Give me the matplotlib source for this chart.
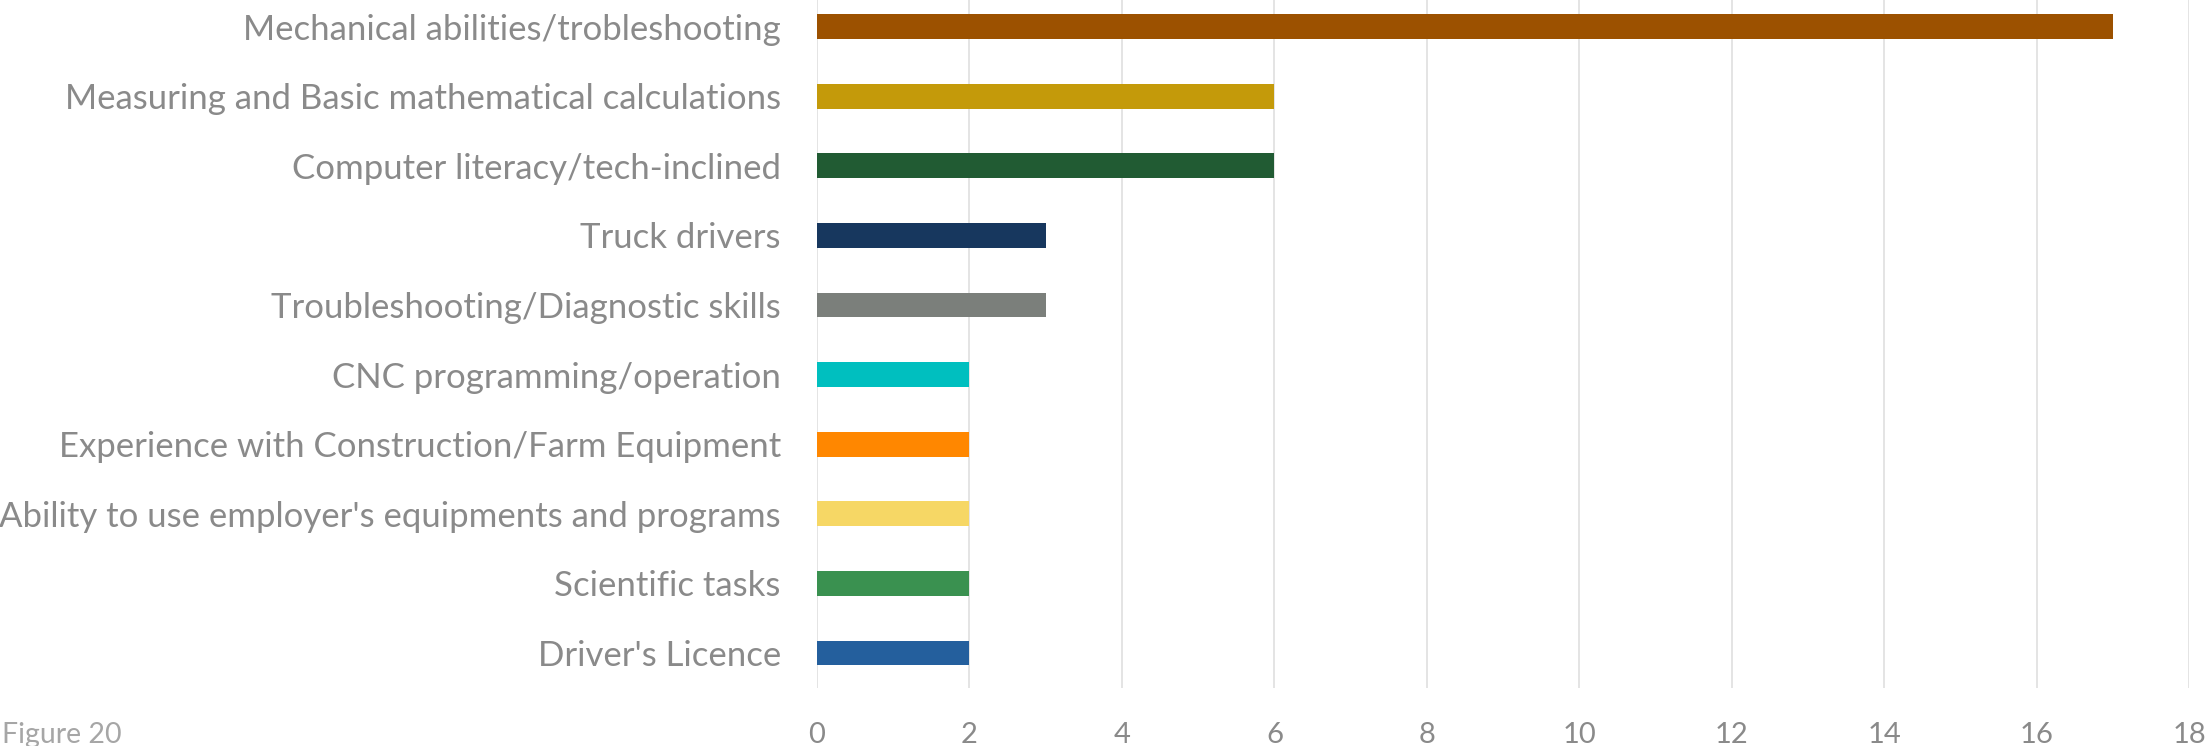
import matplotlib.pyplot as plt
from matplotlib import font_manager

# Skills data, listed bottom to top as drawn
skills = [
    "Driver's Licence",
    "Scientific tasks",
    "Ability to use employer's equipments and programs",
    "Experience with Construction/Farm Equipment",
    "CNC programming/operation",
    "Troubleshooting/Diagnostic skills",
    "Truck drivers",
    "Computer literacy/tech-inclined",
    "Measuring and Basic mathematical calculations",
    "Mechanical abilities/trobleshooting",
]
counts = [2, 2, 2, 2, 2, 3, 3, 6, 6, 17]
colors = [
    "#245F9D", "#3A9150", "#F6D765", "#FF8700", "#00BFBF",
    "#7B7F7B", "#17375E", "#215B33", "#C49A0A", "#9C5100",
]
xticks = [0, 2, 4, 6, 8, 10, 12, 14, 16, 18]

names = {f.name for f in font_manager.fontManager.ttflist}
family = "Liberation Sans Narrow" if "Liberation Sans Narrow" in names else "Lato"
plt.rcParams["font.family"] = [family, "DejaVu Sans"]

label_color = "#8A8A8A"

fig = plt.figure(figsize=(22.08, 7.46), dpi=100)
ax = fig.add_axes([0.370, 0.078, 0.6215, 0.933])

y = range(len(skills))
ax.barh(y, counts, height=0.355, color=colors, zorder=3)

ax.set_xlim(0, 18)
ax.set_ylim(-0.5, len(skills) - 0.5)
ax.set_xticks(xticks)
ax.set_yticks(list(y))
ax.set_yticklabels(skills)
ax.grid(axis="x", color="#E2E2E2", linewidth=1.3, zorder=0)
ax.tick_params(axis="y", length=0, pad=26, labelsize=25, labelcolor=label_color)
ax.tick_params(axis="x", length=0, pad=24.5, labelsize=21, labelcolor=label_color)
for s in ax.spines.values():
    s.set_visible(False)

fig.text(0.001, 0.004, "Figure 20", fontsize=20.5, color="#A6A6A6",
         ha="left", va="baseline")

fig.savefig("out.png", dpi=100)
